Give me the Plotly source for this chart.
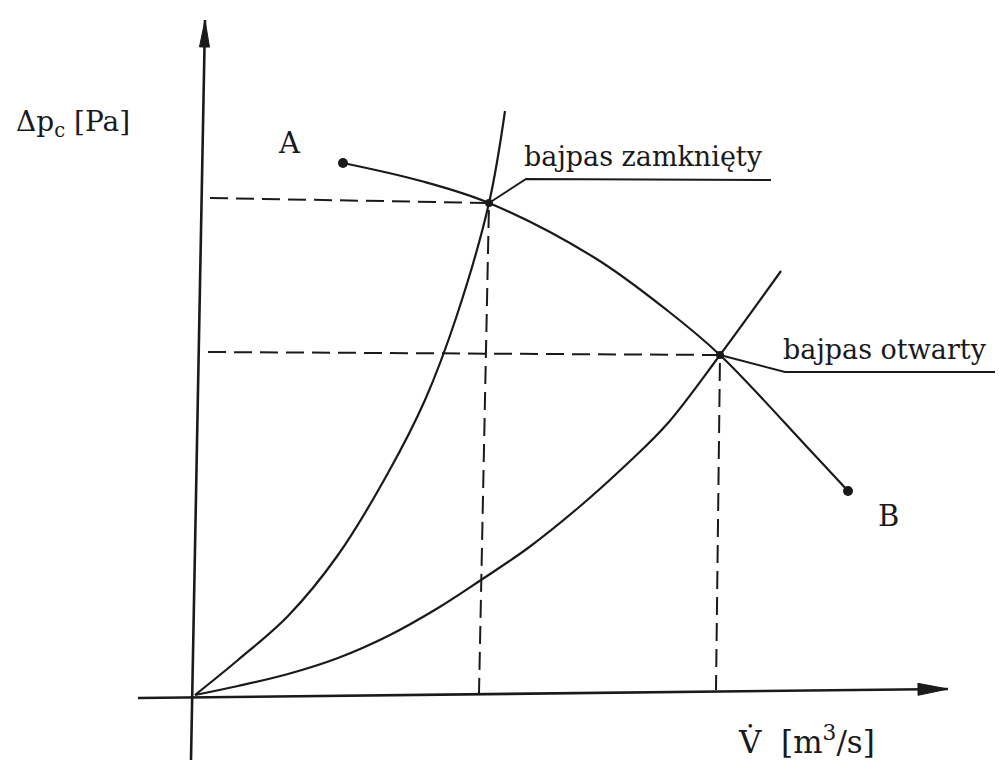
"""Fan curve vs. system curves with the bypass closed and open (sketch)."""

import plotly.graph_objects as go

# Sketch units: origin of the diagram at (0, 0), no scale on either axis.
# Fan characteristic, from point A to point B
fan_q = [148, 226, 294, 400, 473, 525, 613, 653]
fan_dp = [532, 514, 492, 437, 384, 340, 247, 204]
fan_ends = ["A", "B"]

# System curve, bypass closed (steep)
closed_q = [0, 43, 93, 143, 193, 230, 262, 294, 310]
closed_dp = [0, 35, 79, 140, 222, 295, 380, 492, 584]

# System curve, bypass open (flat)
open_q = [0, 43, 93, 143, 193, 243, 286, 333, 383, 433, 473, 525, 586]
open_dp = [0, 9, 21, 37, 59, 87, 115, 147, 187, 232, 272, 340, 424]

# Operating points (intersections) and where their guide lines meet the axes
op_names = ["bajpas zamknięty", "bajpas otwarty"]
op_q = [294, 525]
op_dp = [492, 340]
guide_left_q = [15, 13]
guide_left_dp = [497, 343]
guide_foot_q = [284, 521]
guide_foot_dp = [2, 5]

INK = "#1a1a1a"
FONT = "DejaVu Serif"

# Hand-drawn axes are slightly tilted in the scan
Y_AXIS = ((-4, -65), (10, 675))
X_AXIS = ((-57, -3), (753, 6))


def arrow_path(tail, tip, length, half_width):
    """Filled triangle path for an arrow head at ``tip``."""
    dx, dy = tip[0] - tail[0], tip[1] - tail[1]
    norm = (dx * dx + dy * dy) ** 0.5
    ux, uy = dx / norm, dy / norm
    bx, by = tip[0] - ux * length, tip[1] - uy * length
    px, py = -uy * half_width, ux * half_width
    return (
        f"M {tip[0]},{tip[1]} L {bx + px},{by + py} "
        f"L {bx - px},{by - py} Z"
    )


fig = go.Figure()

# Dashed guide lines from the operating points to both axes
for i in range(len(op_q)):
    fig.add_trace(go.Scatter(
        x=[guide_left_q[i], op_q[i], guide_foot_q[i]],
        y=[guide_left_dp[i], op_dp[i], guide_foot_dp[i]],
        mode="lines",
        line=dict(color=INK, width=2, dash="18px,8px"),
        hoverinfo="skip",
    ))

# System curves and fan curve
for q, dp in [(closed_q, closed_dp), (open_q, open_dp), (fan_q, fan_dp)]:
    fig.add_trace(go.Scatter(
        x=q, y=dp, mode="lines",
        line=dict(color=INK, width=2.2, shape="spline", smoothing=1.0),
        hoverinfo="skip",
    ))

# End points A and B of the fan curve
fig.add_trace(go.Scatter(
    x=[fan_q[0], fan_q[-1]], y=[fan_dp[0], fan_dp[-1]],
    mode="markers",
    marker=dict(color=INK, size=10),
    hoverinfo="skip",
))
fig.add_annotation(x=fan_q[0] - 54, y=fan_dp[0] + 20, text=fan_ends[0],
                   showarrow=False, xanchor="center", yanchor="middle",
                   font=dict(family=FONT, size=29, color=INK))
fig.add_annotation(x=fan_q[-1] + 40, y=fan_dp[-1] - 25, text=fan_ends[1],
                   showarrow=False, xanchor="center", yanchor="middle",
                   font=dict(family=FONT, size=29, color=INK))

# Operating points
fig.add_trace(go.Scatter(
    x=op_q, y=op_dp, mode="markers",
    marker=dict(color=INK, size=8),
    hoverinfo="skip",
))

# Leader lines with underlined labels
leaders = [
    dict(elbow=(331, 516), end=(576, 515)),
    dict(elbow=(590, 323), end=(808, 323)),
]
for i, ld in enumerate(leaders):
    fig.add_trace(go.Scatter(
        x=[op_q[i], ld["elbow"][0], ld["end"][0]],
        y=[op_dp[i], ld["elbow"][1], ld["end"][1]],
        mode="lines",
        line=dict(color=INK, width=2),
        hoverinfo="skip",
    ))
    fig.add_annotation(
        x=ld["elbow"][0] - 4, y=ld["elbow"][1] + 5,
        text=op_names[i], showarrow=False,
        xanchor="left", yanchor="bottom",
        font=dict(family=FONT, size=27, color=INK),
    )

# Axes
for (x0, y0), (x1, y1) in [Y_AXIS, X_AXIS]:
    fig.add_shape(type="line", x0=x0, y0=y0, x1=x1, y1=y1,
                  line=dict(color=INK, width=2.6))
fig.add_shape(type="path", path=arrow_path(*Y_AXIS, 27, 5),
              fillcolor=INK, line=dict(color=INK, width=1))
fig.add_shape(type="path", path=arrow_path(*X_AXIS, 30, 6),
              fillcolor=INK, line=dict(color=INK, width=1))

fig.add_annotation(
    x=-181, y=572, text="Δp<sub>c</sub> [Pa]", showarrow=False,
    xanchor="left", yanchor="middle",
    font=dict(family=FONT, size=28, color=INK),
)
fig.add_annotation(
    x=541, y=-45, text="V\u0307  [m<sup>3</sup>/s]", showarrow=False,
    xanchor="left", yanchor="middle",
    font=dict(family=FONT, size=31, color=INK),
)

fig.update_layout(
    width=1003,
    height=765,
    margin=dict(l=0, r=0, t=0, b=0),
    paper_bgcolor="white",
    plot_bgcolor="white",
    showlegend=False,
    xaxis=dict(range=[-187, 816], visible=False, fixedrange=True),
    yaxis=dict(range=[-78, 687], visible=False, fixedrange=True),
)

fig.write_html("out.html")
